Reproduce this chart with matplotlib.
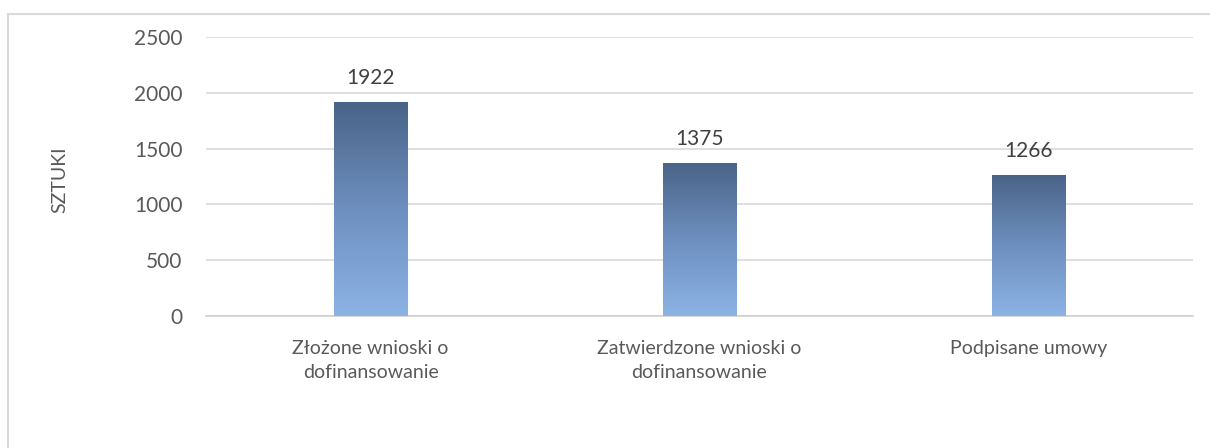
import numpy as np
import matplotlib
matplotlib.use('Agg')
from matplotlib import pyplot as plt
from matplotlib.colors import LinearSegmentedColormap
from matplotlib.patches import Rectangle

kategorie = ['Złożone wnioski o\ndofinansowanie',
             'Zatwierdzone wnioski o\ndofinansowanie',
             'Podpisane umowy']
wartosci = [1922, 1375, 1266]
y_ticks = [0, 500, 1000, 1500, 2000, 2500]
y_label = 'SZTUKI'

plt.rcParams['font.family'] = ['Lato', 'DejaVu Sans']
szary = '#595959'

W, H = 1210, 448
fig = plt.figure(figsize=(W / 100, H / 100), dpi=100)

# ramka wokol wykresu (wychodzi poza prawy i dolny brzeg)
fig.patches.append(Rectangle((8 / W, -0.05), 1.1, (H - 14) / H + 0.05,
                             transform=fig.transFigure, fill=False,
                             edgecolor='#d9d9d9', linewidth=1.5))

ax = fig.add_axes([206 / W, (H - 316) / H, 987 / W, 279 / H])

x = np.arange(len(kategorie))
bars = ax.bar(x, wartosci, width=0.222, color='none', zorder=3)

# gradient w slupkach
cmap = LinearSegmentedColormap.from_list('grad', ['#8cb3e4', '#6d8fbf', '#4a6387'])
grad = np.linspace(0, 1, 256).reshape(-1, 1)
for b in bars:
    x0, y0 = b.get_x(), b.get_y()
    im = ax.imshow(grad, cmap=cmap, aspect='auto', origin='lower',
                   extent=(x0, x0 + b.get_width(), y0, y0 + b.get_height()),
                   zorder=3)
    im.set_clip_path(b)

ax.bar_label(bars, labels=[str(v) for v in wartosci], padding=10,
             fontsize=15, color='#404040')

ax.set_xlim(-0.5, len(kategorie) - 0.5)
ax.set_ylim(0, 2500)
ax.set_yticks(y_ticks)
ax.set_xticks(x)
ax.set_xticklabels(kategorie, fontsize=14, color=szary, linespacing=1.5)
ax.tick_params(axis='y', labelsize=15, labelcolor=szary, length=0, pad=17)
ax.tick_params(axis='x', length=0, pad=17)
ax.yaxis.grid(True, color='#d9d9d9', linewidth=1.2)
ax.set_axisbelow(True)
for s in ['top', 'right', 'left']:
    ax.spines[s].set_visible(False)
ax.spines['bottom'].set_color('#d0d0d0')
ax.spines['bottom'].set_linewidth(1.2)

fig.text(60 / W, 1 - 180 / H, y_label, rotation=90, fontsize=14,
         color=szary, ha='center', va='center')

fig.savefig('out.png', dpi=100)
